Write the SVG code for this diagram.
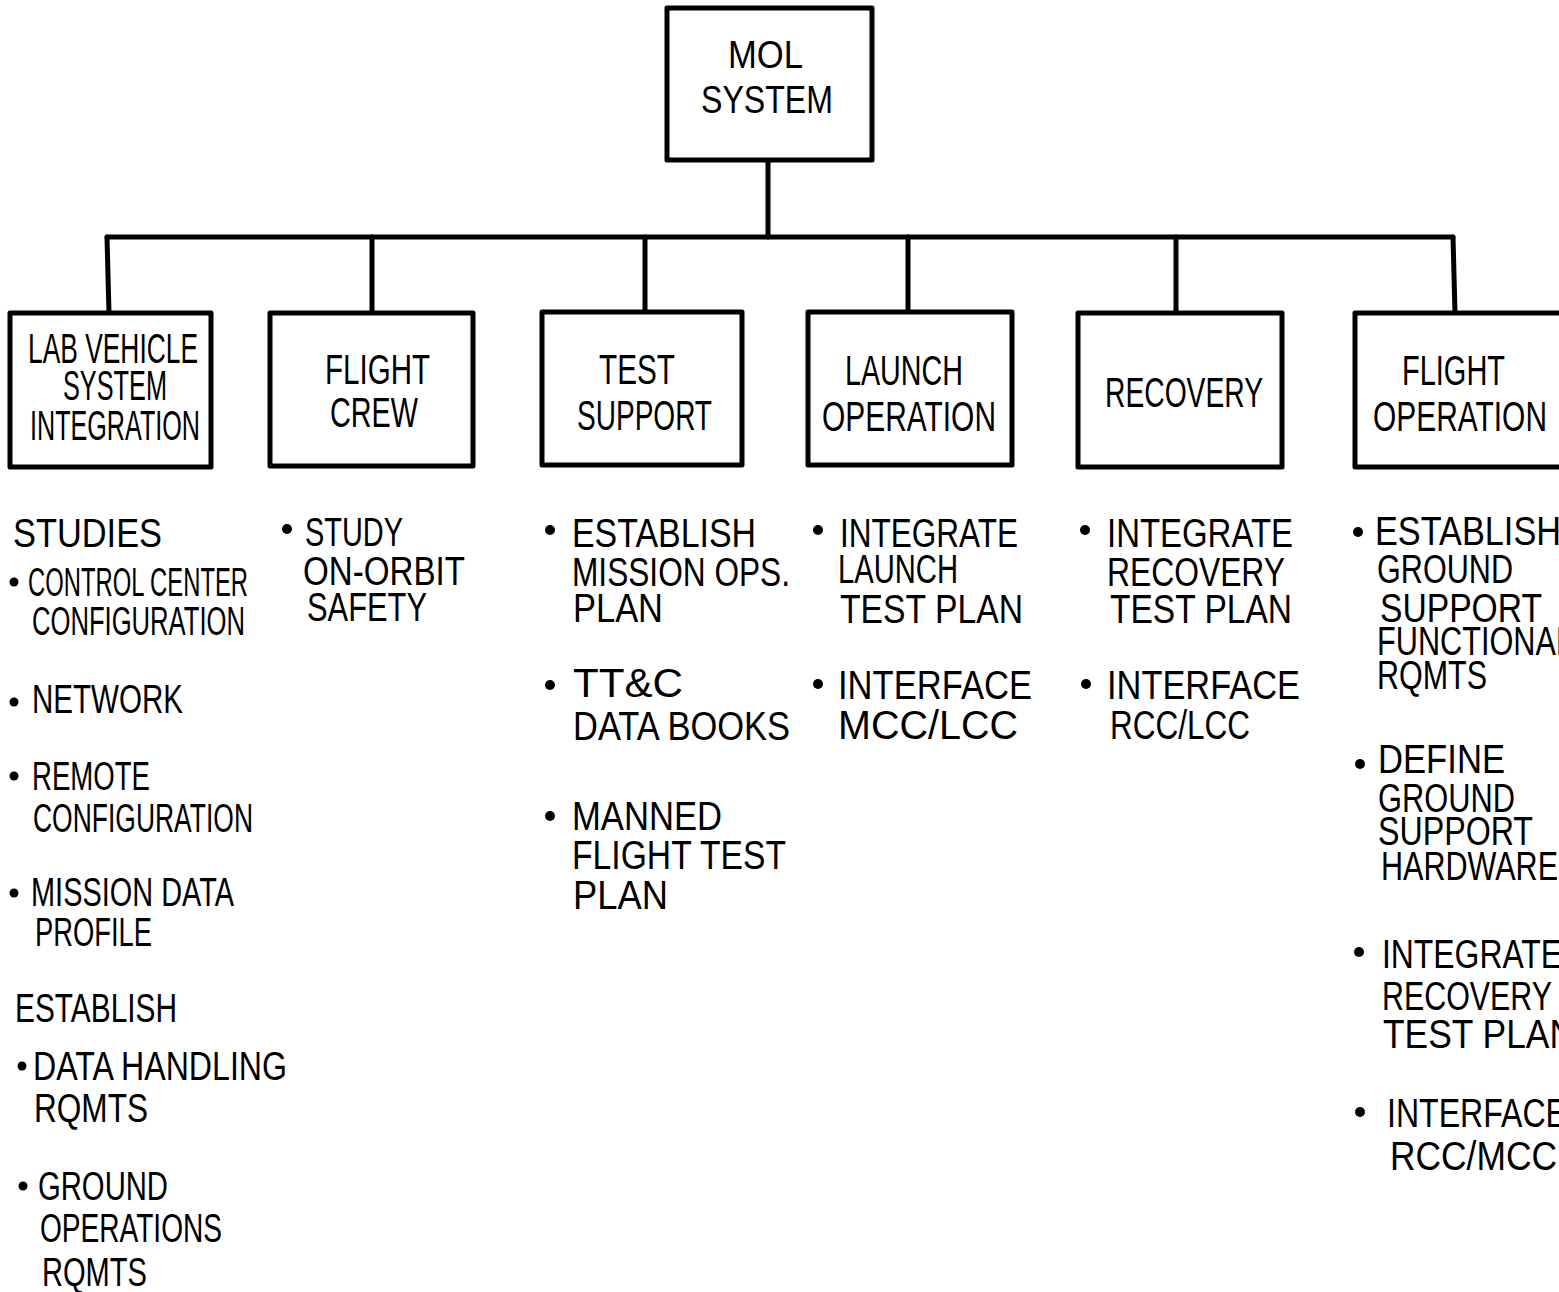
<svg xmlns="http://www.w3.org/2000/svg" width="1559" height="1292" viewBox="0 0 1559 1292">
<style>
.bg{fill:#ffffff}
.box{fill:#ffffff;stroke:#000000;stroke-width:5;stroke-linejoin:round}
.ln{fill:none;stroke:#000000;stroke-width:5;stroke-linecap:round}
.bt{font-family:"Liberation Sans","DejaVu Sans",sans-serif;font-size:43px;fill:#000000}
.mt{font-family:"Liberation Sans","DejaVu Sans",sans-serif;font-size:38px;fill:#000000}
.tx{font-family:"Liberation Sans","DejaVu Sans",sans-serif;font-size:40px;fill:#000000}
.dot{fill:#000000}
</style>
<rect class="bg" x="0" y="0" width="1559" height="1292"/>

<g id="connectors">
<path class="ln" d="M768,160 L768,237"/>
<path class="ln" d="M107,237 L1453,237"/>
<path class="ln" d="M107,237 L109,313"/>
<path class="ln" d="M372,237 L372,313"/>
<path class="ln" d="M645,237 L645,312"/>
<path class="ln" d="M908,237 L908,312"/>
<path class="ln" d="M1176,237 L1176,313"/>
<path class="ln" d="M1453,237 L1455,313"/>
</g>

<g id="mol-system">
<rect class="box" x="667" y="8" width="205" height="152"/>
<text class="mt" x="728" y="68" textLength="75" lengthAdjust="spacingAndGlyphs">MOL</text>
<text class="mt" x="701" y="113" textLength="132" lengthAdjust="spacingAndGlyphs">SYSTEM</text>
</g>

<g id="lab-vehicle">
<rect class="box" x="10" y="313" width="201" height="154"/>
<text class="bt" x="28" y="363" textLength="170" lengthAdjust="spacingAndGlyphs">LAB VEHICLE</text>
<text class="bt" x="63" y="400" textLength="104" lengthAdjust="spacingAndGlyphs">SYSTEM</text>
<text class="bt" x="30" y="440" textLength="170" lengthAdjust="spacingAndGlyphs">INTEGRATION</text>
</g>

<g id="flight-crew">
<rect class="box" x="270" y="313" width="203" height="153"/>
<text class="bt" x="325" y="384" textLength="105" lengthAdjust="spacingAndGlyphs">FLIGHT</text>
<text class="bt" x="330" y="427" textLength="88" lengthAdjust="spacingAndGlyphs">CREW</text>
</g>

<g id="test-support">
<rect class="box" x="542" y="312" width="200" height="153"/>
<text class="bt" x="599" y="384" textLength="76" lengthAdjust="spacingAndGlyphs">TEST</text>
<text class="bt" x="577" y="430" textLength="135" lengthAdjust="spacingAndGlyphs">SUPPORT</text>
</g>

<g id="launch-operation">
<rect class="box" x="808" y="312" width="204" height="153"/>
<text class="bt" x="845" y="385" textLength="118" lengthAdjust="spacingAndGlyphs">LAUNCH</text>
<text class="bt" x="822" y="431" textLength="174" lengthAdjust="spacingAndGlyphs">OPERATION</text>
</g>

<g id="recovery">
<rect class="box" x="1078" y="313" width="204" height="154"/>
<text class="bt" x="1105" y="407" textLength="158" lengthAdjust="spacingAndGlyphs">RECOVERY</text>
</g>

<g id="flight-operation">
<rect class="box" x="1355" y="313" width="210" height="154"/>
<text class="bt" x="1402" y="385" textLength="103" lengthAdjust="spacingAndGlyphs">FLIGHT</text>
<text class="bt" x="1373" y="431" textLength="174" lengthAdjust="spacingAndGlyphs">OPERATION</text>
</g>

<g id="lab-vehicle-items">
<text class="tx" x="13" y="547" textLength="149" lengthAdjust="spacingAndGlyphs">STUDIES</text>
<circle class="dot" cx="14" cy="582" r="4.5"/>
<text class="tx" x="28" y="596" textLength="220" lengthAdjust="spacingAndGlyphs">CONTROL CENTER</text>
<text class="tx" x="32" y="635" textLength="213" lengthAdjust="spacingAndGlyphs">CONFIGURATION</text>
<circle class="dot" cx="14" cy="702" r="4.5"/>
<text class="tx" x="32" y="713" textLength="151" lengthAdjust="spacingAndGlyphs">NETWORK</text>
<circle class="dot" cx="14" cy="776" r="4.5"/>
<text class="tx" x="32" y="790" textLength="118" lengthAdjust="spacingAndGlyphs">REMOTE</text>
<text class="tx" x="33" y="832" textLength="220" lengthAdjust="spacingAndGlyphs">CONFIGURATION</text>
<circle class="dot" cx="14" cy="893" r="4.5"/>
<text class="tx" x="31" y="906" textLength="203" lengthAdjust="spacingAndGlyphs">MISSION DATA</text>
<text class="tx" x="35" y="946" textLength="117" lengthAdjust="spacingAndGlyphs">PROFILE</text>
<text class="tx" x="15" y="1022" textLength="162" lengthAdjust="spacingAndGlyphs">ESTABLISH</text>
<circle class="dot" cx="22" cy="1066" r="4.5"/>
<text class="tx" x="33" y="1080" textLength="254" lengthAdjust="spacingAndGlyphs">DATA HANDLING</text>
<text class="tx" x="34" y="1122" textLength="114" lengthAdjust="spacingAndGlyphs">RQMTS</text>
<circle class="dot" cx="23" cy="1186" r="4.5"/>
<text class="tx" x="38" y="1200" textLength="130" lengthAdjust="spacingAndGlyphs">GROUND</text>
<text class="tx" x="40" y="1242" textLength="182" lengthAdjust="spacingAndGlyphs">OPERATIONS</text>
<text class="tx" x="42" y="1286" textLength="105" lengthAdjust="spacingAndGlyphs">RQMTS</text>
</g>

<g id="flight-crew-items">
<circle class="dot" cx="287" cy="529" r="5"/>
<text class="tx" x="305" y="546" textLength="98" lengthAdjust="spacingAndGlyphs">STUDY</text>
<text class="tx" x="303" y="585" textLength="162" lengthAdjust="spacingAndGlyphs">ON-ORBIT</text>
<text class="tx" x="307" y="621" textLength="120" lengthAdjust="spacingAndGlyphs">SAFETY</text>
</g>

<g id="test-support-items">
<circle class="dot" cx="550" cy="530" r="5"/>
<text class="tx" x="572" y="547" textLength="184" lengthAdjust="spacingAndGlyphs">ESTABLISH</text>
<text class="tx" x="572" y="586" textLength="218" lengthAdjust="spacingAndGlyphs">MISSION OPS.</text>
<text class="tx" x="573" y="622" textLength="90" lengthAdjust="spacingAndGlyphs">PLAN</text>
<circle class="dot" cx="550" cy="685" r="5"/>
<text class="tx" x="573" y="697" textLength="110" lengthAdjust="spacingAndGlyphs">TT&amp;C</text>
<text class="tx" x="573" y="740" textLength="217" lengthAdjust="spacingAndGlyphs">DATA BOOKS</text>
<circle class="dot" cx="550" cy="816" r="5"/>
<text class="tx" x="572" y="830" textLength="150" lengthAdjust="spacingAndGlyphs">MANNED</text>
<text class="tx" x="572" y="869" textLength="214" lengthAdjust="spacingAndGlyphs">FLIGHT TEST</text>
<text class="tx" x="573" y="909" textLength="95" lengthAdjust="spacingAndGlyphs">PLAN</text>
</g>

<g id="launch-operation-items">
<circle class="dot" cx="818" cy="530" r="5"/>
<text class="tx" x="840" y="547" textLength="178" lengthAdjust="spacingAndGlyphs">INTEGRATE</text>
<text class="tx" x="838" y="583" textLength="120" lengthAdjust="spacingAndGlyphs">LAUNCH</text>
<text class="tx" x="840" y="623" textLength="183" lengthAdjust="spacingAndGlyphs">TEST PLAN</text>
<circle class="dot" cx="818" cy="684" r="5"/>
<text class="tx" x="838" y="699" textLength="194" lengthAdjust="spacingAndGlyphs">INTERFACE</text>
<text class="tx" x="838" y="739" textLength="180" lengthAdjust="spacingAndGlyphs">MCC/LCC</text>
</g>

<g id="recovery-items">
<circle class="dot" cx="1085" cy="530" r="5"/>
<text class="tx" x="1107" y="547" textLength="186" lengthAdjust="spacingAndGlyphs">INTEGRATE</text>
<text class="tx" x="1107" y="586" textLength="178" lengthAdjust="spacingAndGlyphs">RECOVERY</text>
<text class="tx" x="1110" y="623" textLength="182" lengthAdjust="spacingAndGlyphs">TEST PLAN</text>
<circle class="dot" cx="1086" cy="684" r="5"/>
<text class="tx" x="1107" y="699" textLength="193" lengthAdjust="spacingAndGlyphs">INTERFACE</text>
<text class="tx" x="1110" y="739" textLength="140" lengthAdjust="spacingAndGlyphs">RCC/LCC</text>
</g>

<g id="flight-operation-items">
<circle class="dot" cx="1358" cy="532" r="5"/>
<text class="tx" x="1375" y="545" textLength="186" lengthAdjust="spacingAndGlyphs">ESTABLISH</text>
<text class="tx" x="1377" y="583" textLength="136" lengthAdjust="spacingAndGlyphs">GROUND</text>
<text class="tx" x="1380" y="622" textLength="162" lengthAdjust="spacingAndGlyphs">SUPPORT</text>
<text class="tx" x="1377" y="655" textLength="196" lengthAdjust="spacingAndGlyphs">FUNCTIONAL</text>
<text class="tx" x="1377" y="689" textLength="110" lengthAdjust="spacingAndGlyphs">RQMTS</text>
<circle class="dot" cx="1360" cy="764" r="5"/>
<text class="tx" x="1378" y="773" textLength="127" lengthAdjust="spacingAndGlyphs">DEFINE</text>
<text class="tx" x="1378" y="812" textLength="137" lengthAdjust="spacingAndGlyphs">GROUND</text>
<text class="tx" x="1378" y="845" textLength="155" lengthAdjust="spacingAndGlyphs">SUPPORT</text>
<text class="tx" x="1381" y="880" textLength="177" lengthAdjust="spacingAndGlyphs">HARDWARE</text>
<circle class="dot" cx="1359" cy="952" r="5"/>
<text class="tx" x="1382" y="968" textLength="180" lengthAdjust="spacingAndGlyphs">INTEGRATE</text>
<text class="tx" x="1382" y="1010" textLength="170" lengthAdjust="spacingAndGlyphs">RECOVERY</text>
<text class="tx" x="1383" y="1048" textLength="192" lengthAdjust="spacingAndGlyphs">TEST PLAN</text>
<circle class="dot" cx="1360" cy="1112" r="5"/>
<text class="tx" x="1387" y="1127" textLength="180" lengthAdjust="spacingAndGlyphs">INTERFACE</text>
<text class="tx" x="1390" y="1170" textLength="167" lengthAdjust="spacingAndGlyphs">RCC/MCC</text>
</g>
</svg>
